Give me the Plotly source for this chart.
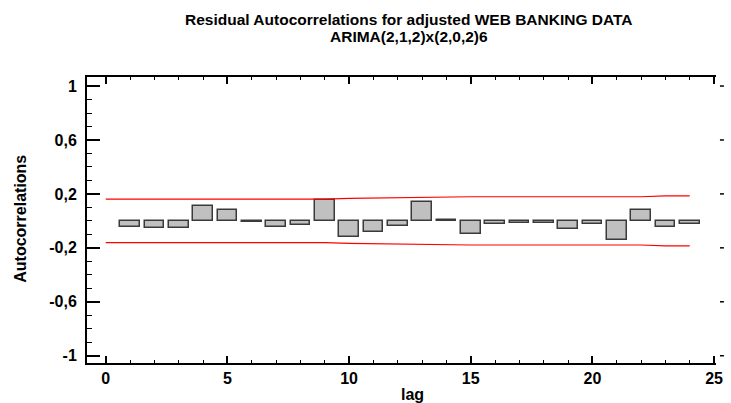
import plotly.graph_objects as go

# ---- data ----
lags = list(range(1, 25))
acf = [-0.044, -0.052, -0.052, 0.109, 0.084, -0.005, -0.044, -0.030, 0.153, -0.116,
       -0.086, -0.038, 0.141, 0.005, -0.094, -0.022, -0.017, -0.017, -0.057, -0.022,
       -0.143, 0.081, -0.049, -0.022]
bound_lags = list(range(0, 25))
upper = [0.161, 0.161, 0.161, 0.161, 0.161, 0.161, 0.161, 0.161, 0.161, 0.161,
         0.167, 0.170, 0.171, 0.172, 0.179, 0.179, 0.179, 0.179, 0.179, 0.179,
         0.179, 0.179, 0.179, 0.185, 0.185]
lower = [-0.161, -0.161, -0.161, -0.161, -0.161, -0.161, -0.161, -0.161, -0.161, -0.161,
         -0.167, -0.170, -0.171, -0.172, -0.179, -0.179, -0.179, -0.179, -0.179, -0.179,
         -0.179, -0.179, -0.179, -0.185, -0.185]
ytickvals = [-1, -0.6, -0.2, 0.2, 0.6, 1]
yticktext = ["-1", "-0,6", "-0,2", "0,2", "0,6", "1"]
title1 = "Residual Autocorrelations for adjusted WEB BANKING DATA"
title2 = "ARIMA(2,1,2)x(2,0,2)6"

FONT = "Liberation Sans, Arial, sans-serif"
L, R, T, B = 87, 8, 77, 40
W, H = 731, 403
PW = W - L - R
PH = H - T - B


def px_x(p):
    return (p - L) / PW


def px_y(p):
    return (H - B - p) / PH


fig = go.Figure()
fig.add_trace(go.Bar(x=lags, y=acf, width=0.81, base=0,
                     marker=dict(color="#C0C0C0", line=dict(color="#3a3a3a", width=1.5)),
                     showlegend=False))
fig.add_trace(go.Scatter(x=bound_lags, y=upper, mode="lines",
                         line=dict(color="#FF0000", width=1.2), showlegend=False))
fig.add_trace(go.Scatter(x=bound_lags, y=lower, mode="lines",
                         line=dict(color="#FF0000", width=1.2), showlegend=False))

# right-edge tick stubs (frame of the right axis lies outside the picture)
shapes = [dict(type="line", xref="paper", yref="y", x0=px_x(727), x1=px_x(731),
               y0=v, y1=v, line=dict(color="black", width=1.5)) for v in ytickvals]

fig.update_layout(
    width=W, height=H,
    margin=dict(l=L, r=R, t=T, b=B),
    paper_bgcolor="white", plot_bgcolor="white",
    font=dict(family=FONT, size=16, color="black", weight="bold"),
    bargap=0,
    shapes=shapes,
    xaxis=dict(range=[-0.77, 25.08], tick0=0, dtick=5, ticks="inside", ticklen=7,
               tickwidth=1.5, tickcolor="black", showline=True, linecolor="black",
               linewidth=2, mirror="allticks", showgrid=False, zeroline=False,
               ticklabelstandoff=0,
               minor=dict(dtick=1, tick0=0, ticks="inside", ticklen=3, tickcolor="black",
                          tickwidth=1, showgrid=False),
               tickfont=dict(size=16, family=FONT, weight="bold")),
    yaxis=dict(range=[-1.054, 1.067], tickvals=ytickvals, ticktext=yticktext,
               ticks="inside", ticklen=13, tickwidth=1.5, tickcolor="black",
               showline=True, linecolor="black", linewidth=2, mirror=False,
               showgrid=False, zeroline=False, ticklabelstandoff=5,
               minor=dict(dtick=0.1, tick0=-1, ticks="inside", ticklen=5,
                          tickcolor="black", tickwidth=1, showgrid=False),
               tickfont=dict(size=16, family=FONT, weight="bold")),
    annotations=[
        dict(text=title1, xref="paper", yref="paper", x=px_x(413), y=px_y(19),
             xanchor="center", yanchor="middle", showarrow=False,
             font=dict(size=15.5, family=FONT, weight="bold")),
        dict(text=title2, xref="paper", yref="paper", x=px_x(413), y=px_y(36),
             xanchor="center", yanchor="middle", showarrow=False,
             font=dict(size=15.5, family=FONT, weight="bold")),
        dict(text="lag", xref="paper", yref="paper", x=px_x(416), y=px_y(394),
             xanchor="center", yanchor="middle", showarrow=False,
             font=dict(size=16, family=FONT, weight="bold")),
        dict(text="Autocorrelations", xref="paper", yref="paper", x=px_x(19), y=px_y(219),
             xanchor="center", yanchor="middle", showarrow=False, textangle=-90,
             font=dict(size=16, family=FONT, weight="bold")),
    ],
)

fig.write_html("out.html")
